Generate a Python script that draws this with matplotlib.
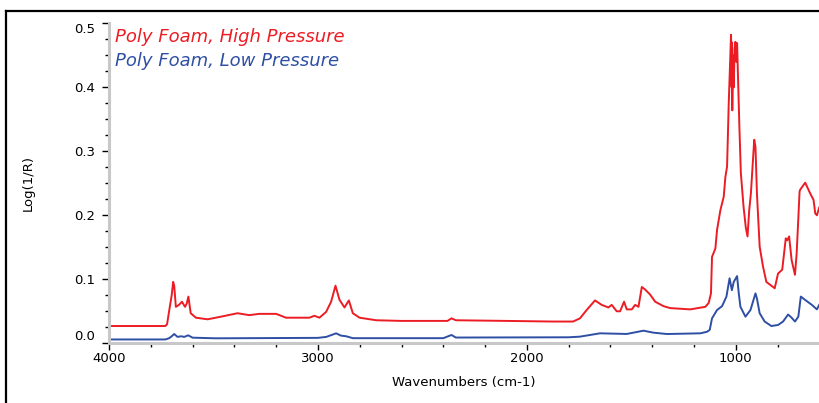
import numpy as np
import matplotlib.pyplot as plt
from matplotlib.lines import Line2D
from matplotlib.ticker import MultipleLocator

# high pressure spectrum (wavenumber, log(1/R))
high_wn = [4000, 3730, 3722, 3710, 3700, 3693, 3688, 3680, 3665, 3651, 3636, 3628,
           3620, 3609, 3584, 3528, 3464, 3385, 3329, 3281, 3200, 3153, 3041, 3017,
           2993, 2961, 2937, 2916, 2897, 2873, 2852, 2833, 2801, 2721, 2600, 2380,
           2361, 2340, 2100, 1876, 1779, 1746, 1714, 1674, 1642, 1610, 1594, 1570,
           1554, 1535, 1522, 1498, 1482, 1466, 1450, 1434, 1410, 1386, 1346, 1314,
           1218, 1146, 1130, 1119, 1114, 1098, 1090, 1074, 1058, 1050, 1042, 1034,
           1026, 1023, 1020, 1018, 1017, 1014, 1010, 1006, 1002, 998, 994, 990,
           983, 976, 963, 952, 944, 936, 928, 912, 906, 899, 886, 870, 854, 846,
           814, 798, 778, 761, 754, 745, 733, 717, 709, 701, 695, 692, 668, 644,
           628, 620, 612, 601]
high_val = [0.027, 0.027, 0.030, 0.055, 0.075, 0.096, 0.090, 0.057, 0.060, 0.065, 0.057, 0.062,
            0.073, 0.047, 0.040, 0.0375, 0.0416, 0.047, 0.044, 0.046, 0.046, 0.040, 0.040, 0.043,
            0.040, 0.049, 0.065, 0.090, 0.068, 0.056, 0.067, 0.047, 0.040, 0.036, 0.035, 0.035,
            0.039, 0.036, 0.035, 0.034, 0.034, 0.039, 0.052, 0.067, 0.060, 0.056, 0.060, 0.050,
            0.050, 0.065, 0.053, 0.053, 0.060, 0.057, 0.088, 0.084, 0.076, 0.065, 0.058, 0.055,
            0.053, 0.057, 0.063, 0.078, 0.135, 0.148, 0.177, 0.208, 0.229, 0.260, 0.276, 0.375,
            0.453, 0.482, 0.400, 0.470, 0.364, 0.450, 0.400, 0.460, 0.471, 0.440, 0.469, 0.420,
            0.338, 0.266, 0.213, 0.180, 0.167, 0.208, 0.234, 0.318, 0.307, 0.234, 0.151, 0.120,
            0.096, 0.094, 0.086, 0.109, 0.115, 0.164, 0.161, 0.167, 0.130, 0.107, 0.140, 0.195,
            0.237, 0.240, 0.251, 0.234, 0.224, 0.203, 0.200, 0.212]

# low pressure spectrum
low_wn = [4000, 3730, 3712, 3700, 3688, 3672, 3655, 3640, 3621, 3600, 3488, 3000,
          2960, 2913, 2890, 2865, 2833, 2400, 2361, 2340, 1800, 1746, 1650, 1522,
          1442, 1394, 1330, 1170, 1138, 1125, 1114, 1090, 1066, 1045, 1030, 1019,
          1010, 994, 986, 978, 954, 930, 906, 899, 886, 862, 830, 798, 774, 750,
          733, 717, 701, 689, 668, 636, 612, 601]
low_val = [0.006, 0.006, 0.008, 0.011, 0.0145, 0.010, 0.011, 0.010, 0.0125, 0.0088, 0.0078, 0.0085,
           0.010, 0.0156, 0.012, 0.011, 0.008, 0.008, 0.013, 0.009, 0.0094, 0.0104, 0.0156, 0.0146,
           0.0197, 0.0166, 0.0145, 0.0156, 0.018, 0.021, 0.039, 0.052, 0.058, 0.073, 0.1016, 0.083,
           0.096, 0.105, 0.078, 0.057, 0.0416, 0.052, 0.078, 0.070, 0.047, 0.034, 0.027, 0.0286, 0.034, 0.045,
           0.040, 0.034, 0.0416, 0.073, 0.0677, 0.060, 0.053, 0.060]

labels = ['Poly Foam, High Pressure', 'Poly Foam, Low Pressure']
colors = ['#ec1c24', '#2e4fa3']

W, H = 819, 403
fig = plt.figure(figsize=(W / 100, H / 100), dpi=100)
ax = fig.add_axes([109 / W, 1 - 343.3 / H, 1 - 109 / W, (343.3 - 23.3) / H])

ax.plot(high_wn, high_val, color=colors[0], lw=1.4)
ax.plot(low_wn, low_val, color=colors[1], lw=1.4)

ax.set_xlim(4000, 602)
ax.set_ylim(0, 0.5)
ax.xaxis.set_major_locator(MultipleLocator(1000))
ax.xaxis.set_minor_locator(MultipleLocator(200))
ax.yaxis.set_major_locator(MultipleLocator(0.1))
ax.yaxis.set_minor_locator(MultipleLocator(0.025))
ax.yaxis.set_major_formatter(plt.FormatStrFormatter('%.1f'))

for s in ['top', 'right']:
    ax.spines[s].set_visible(False)
for s in ['left', 'bottom']:
    ax.spines[s].set_color('#c8c8c8')
    ax.spines[s].set_linewidth(2.2)

ax.tick_params(which='major', length=5, width=1, color='black', labelsize=9.5, pad=1)
ax.tick_params(which='minor', length=3, width=1, color='black')
ax.tick_params(axis='y', pad=5)

ax.set_xlabel('Wavenumbers (cm-1)', fontsize=9.5, labelpad=8)
ax.set_ylabel('Log(1/R)', fontsize=9.5, labelpad=28)
fig.canvas.draw()
# end labels sit inside the axis range
for t in ax.get_yticklabels():
    if t.get_text() == '0.5':
        t.set_va('top')
    elif t.get_text() == '0.0':
        t.set_va('bottom')

ax.text(115 / W, 1 - 37 / H, labels[0], transform=fig.transFigure, color=colors[0],
        fontsize=13, style='italic', va='center')
ax.text(115 / W, 1 - 61 / H, labels[1], transform=fig.transFigure, color=colors[1],
        fontsize=13, style='italic', va='center')

# outer frame
fig.add_artist(Line2D([6 / W, 6 / W], [0, 1 - 11 / H], color='black', lw=1.6,
                      transform=fig.transFigure))
fig.add_artist(Line2D([6 / W, 1], [1 - 11 / H, 1 - 11 / H], color='black', lw=1.6,
                      transform=fig.transFigure))

fig.savefig('out.png', dpi=100)
